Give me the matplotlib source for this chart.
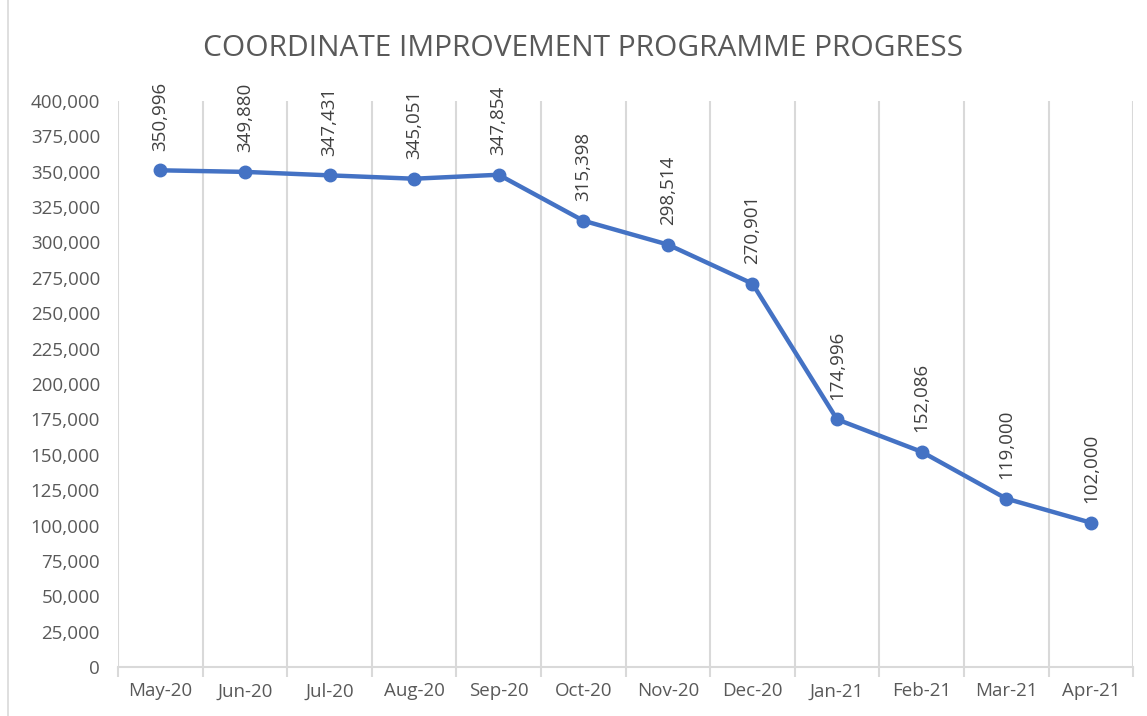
import matplotlib.pyplot as plt
import matplotlib.ticker as mticker
from matplotlib.patches import Rectangle

#Data
months = ["May-20", "Jun-20", "Jul-20", "Aug-20", "Sep-20", "Oct-20",
          "Nov-20", "Dec-20", "Jan-21", "Feb-21", "Mar-21", "Apr-21"]
values = [350996, 349880, 347431, 345051, 347854, 315398,
          298514, 270901, 174996, 152086, 119000, 102000]

plt.rcParams["font.family"] = ["Open Sans", "DejaVu Sans"]

fig = plt.figure(figsize=(11.47, 7.16), dpi=100)
ax = fig.add_axes([0.1029, 0.0684, 0.885, 0.7906])

x = list(range(len(months)))
ax.plot(x, values, color="#4472C4", linewidth=3.2, marker="o",
        markersize=9, zorder=3)

#Rotated data labels above each point
for xi, v in zip(x, values):
    ax.annotate(f"{v:,}", (xi, v), xytext=(0, 14), textcoords="offset points",
                rotation=90, ha="center", va="bottom", fontsize=13.5,
                color="#404040")

ax.set_xlim(-0.5, len(months) - 0.5)
ax.set_ylim(0, 400000)
ax.yaxis.set_major_locator(mticker.MultipleLocator(25000))
ax.yaxis.set_major_formatter(mticker.FuncFormatter(lambda v, p: f"{int(v):,}"))

#Vertical gridlines on category boundaries
ax.set_xticks([i - 0.5 for i in range(len(months) + 1)])
ax.set_xticklabels([])
ax.set_xticks(x, minor=True)
ax.set_xticklabels(months, minor=True)
ax.tick_params(axis="x", which="major", length=7, color="#D9D9D9", width=1.5)
ax.tick_params(axis="x", which="minor", length=0, pad=11,
               labelsize=13.5, labelcolor="#595959")
ax.tick_params(axis="y", length=0, pad=13, labelsize=13.5, labelcolor="#595959")
ax.grid(axis="x", which="major", color="#D9D9D9", linewidth=1.5)

for s in ["top", "right", "left"]:
    ax.spines[s].set_visible(False)
ax.spines["bottom"].set_color("#D9D9D9")
ax.spines["bottom"].set_linewidth(1.5)

fig.text(0.508, 0.932, "COORDINATE IMPROVEMENT PROGRAMME PROGRESS",
         ha="center", va="center", fontsize=21.5, color="#595959")

#Chart frame
fig.patches.append(Rectangle((0.007, -0.01), 1.2, 1.2, transform=fig.transFigure,
                             fill=False, edgecolor="#D9D9D9", linewidth=1.2))

fig.savefig("out.png", dpi=100)
